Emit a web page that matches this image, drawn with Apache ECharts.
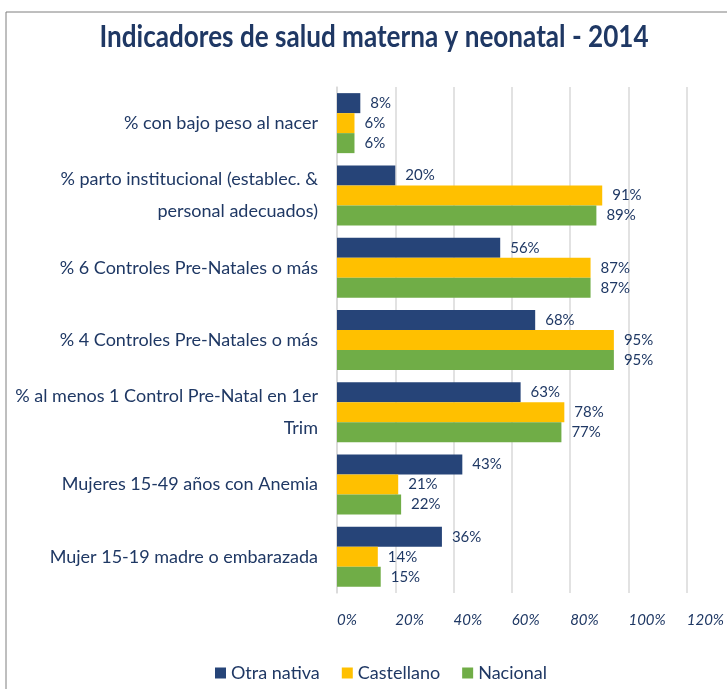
<!DOCTYPE html>
<html>
<head>
<meta charset="utf-8">
<script src="https://cdn.jsdelivr.net/npm/echarts@6/dist/echarts.min.js"></script>
<style>
  html, body { margin: 0; padding: 0; background: #fff; }
  #chart { width: 727px; height: 689px; }
</style>
</head>
<body>
<div id="chart"></div>
<script>
// categories from top to bottom
const categories = [
  '% con bajo peso al nacer',
  '% parto institucional (establec. &\npersonal adecuados)',
  '% 6 Controles Pre-Natales o más',
  '% 4 Controles Pre-Natales o más',
  '% al menos 1 Control Pre-Natal en 1er\nTrim',
  'Mujeres 15-49 años con Anemia',
  'Mujer 15-19 madre o embarazada'
]
const otraNativa = [8, 20, 56, 68, 63, 43, 36]
const castellano = [6, 91, 87, 95, 78, 21, 14]
const nacional = [6, 89, 87, 95, 77, 22, 15]
const seriesNames = ['Otra nativa', 'Castellano', 'Nacional']
const seriesColors = ['#264478', '#FFC000', '#70AD47']

const textColor = '#1F3864'
const labelFont = 'Lato'

const chart = echarts.init(document.getElementById('chart'))

const makeSeries = (name, data, color) => ({
  name: name,
  type: 'bar',
  data: data,
  barGap: '0%',
  barCategoryGap: '17%',
  itemStyle: { color: color },
  label: {
    show: true,
    position: 'right',
    distance: 10,
    formatter: '{c}%',
    color: textColor,
    fontFamily: labelFont,
    fontSize: 15
  }
})

const option = {
  animation: false,
  legend: {
    bottom: 2,
    left: 210,
    icon: 'rect',
    itemWidth: 11,
    itemHeight: 11,
    itemGap: 22,
    data: seriesNames,
    textStyle: { color: textColor, fontFamily: labelFont, fontSize: 18 }
  },
  graphic: [
    {
      type: 'rect',
      shape: { x: 6, y: 12, width: 760, height: 700 },
      style: { fill: 'none', stroke: '#7f7f7f', lineWidth: 1 },
      silent: true
    },
    {
      // 标题 (condensed look)
      type: 'text',
      x: 374,
      y: 37,
      scaleX: 0.87,
      style: {
        text: 'Indicadores de salud materna y neonatal - 2014',
        fill: textColor,
        font: 'bold 30px Lato',
        align: 'center',
        verticalAlign: 'middle'
      }
    }
  ],
  grid: {
    left: 337,
    right: 32,
    top: 87,
    bottom: 96,
    containLabel: false
  },
  xAxis: {
    type: 'value',
    min: 0,
    max: 120,
    interval: 20,
    axisLine: { show: false },
    axisTick: { show: false },
    splitLine: { lineStyle: { color: '#d9d9d9', width: 1.5 } },
    axisLabel: {
      formatter: '{value}%',
      align: 'left',
      margin: 20,
      color: textColor,
      fontFamily: labelFont,
      fontStyle: 'italic',
      fontSize: 15
    }
  },
  yAxis: {
    type: 'category',
    inverse: true,
    data: categories,
    axisLine: { lineStyle: { color: '#d9d9d9', width: 1.5 } },
    axisTick: { length: 6, lineStyle: { color: '#d9d9d9', width: 1.5 } },
    axisLabel: {
      margin: 19,
      color: textColor,
      fontFamily: labelFont,
      fontSize: 18,
      lineHeight: 32,
      align: 'right'
    }
  },
  series: [
    makeSeries(seriesNames[0], otraNativa, seriesColors[0]),
    makeSeries(seriesNames[1], castellano, seriesColors[1]),
    makeSeries(seriesNames[2], nacional, seriesColors[2])
  ]
}

chart.setOption(option)
window.addEventListener('resize', () => {
  chart.resize()
})
</script>
</body>
</html>
